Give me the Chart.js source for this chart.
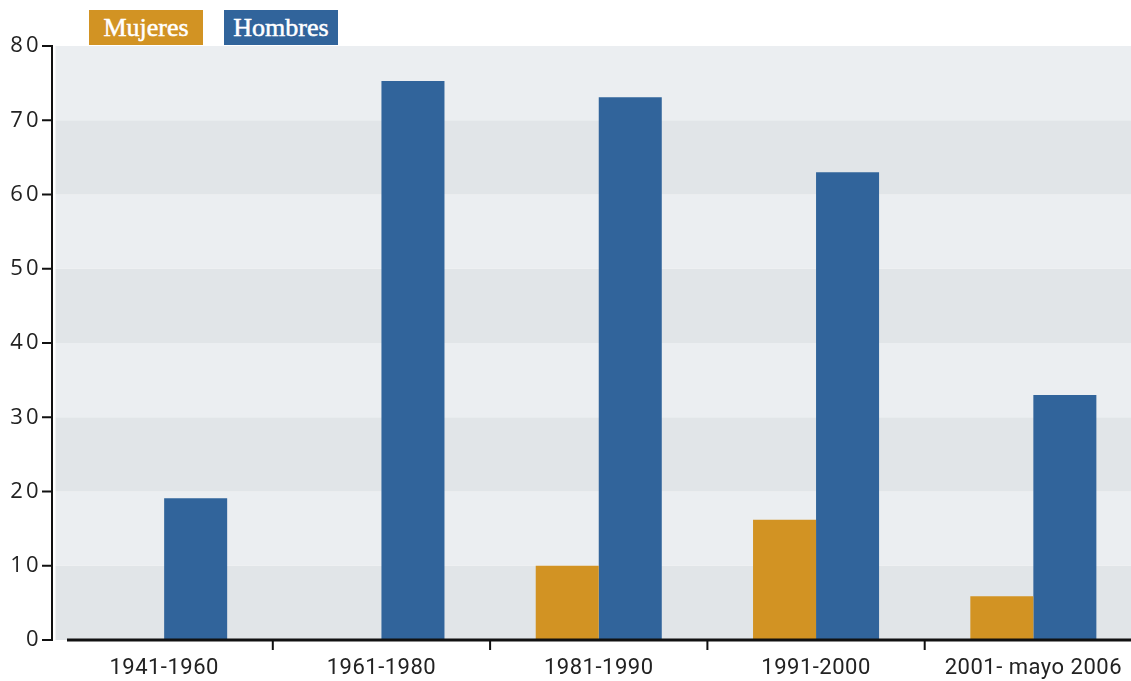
<!DOCTYPE html>
<html>
<head>
<meta charset="utf-8">
<script src="https://cdn.jsdelivr.net/npm/chart.js@4/dist/chart.umd.min.js"></script>
<style>
    html, body { margin: 0; padding: 0; background: #ffffff; overflow: hidden; }
    #wrap { position: relative; width: 1142px; height: 681px; }
    .key {
        position: absolute; top: 10px; width: 114px; height: 35px;
        color: #ffffff; font-family: "Liberation Serif", serif;
        -webkit-text-stroke: 0.5px #ffffff;
        font-size: 26px; line-height: 36px; text-align: center;
    }
</style>
</head>
<body>
<div id="wrap">
    <canvas id="barChart" width="1142" height="681"></canvas>
    <div class="key" style="left:89px;background:#d29323;">Mujeres</div>
    <div class="key" style="left:224px;background:#31649b;">Hombres</div>
</div>
<script>
const periods = ["1941-1960", "1961-1980", "1981-1990", "1991-2000", "2001- mayo 2006"];
const mujeres = [0, 0, 10, 16.2, 5.9];
const hombres = [19.1, 75.3, 73.1, 63, 33];
const yTicks = [0, 10, 20, 30, 40, 50, 60, 70, 80];

// alternating bands, axis lines and tick marks
const decorPlugin = {
    id: "decor",
    beforeDatasetsDraw(chart) {
        const ctx = chart.ctx;
        const area = chart.chartArea;
        const y = chart.scales.y;
        ctx.save();
        for (let i = 0; i < yTicks.length - 1; i++) {
            const top = y.getPixelForValue(yTicks[i + 1]);
            const bottom = y.getPixelForValue(yTicks[i]);
            ctx.fillStyle = (i % 2 === 0) ? "#e1e5e8" : "#ebeef1";
            ctx.fillRect(area.left, top, area.right - area.left, bottom - top);
        }
        ctx.restore();
    },
    afterDraw(chart) {
        const ctx = chart.ctx;
        const area = chart.chartArea;
        const x = chart.scales.x;
        const y = chart.scales.y;
        const zero = y.getPixelForValue(0);
        ctx.save();
        ctx.strokeStyle = "#111111";
        ctx.lineWidth = 2;
        ctx.beginPath();
        ctx.moveTo(52, y.getPixelForValue(80) - 1);
        ctx.lineTo(52, zero + 1);
        yTicks.forEach(v => {
            const py = y.getPixelForValue(v);
            ctx.moveTo(42, py);
            ctx.lineTo(53, py);
        });
        for (let i = 1; i < periods.length; i++) {
            const px = (x.getPixelForValue(i - 1) + x.getPixelForValue(i)) / 2;
            ctx.moveTo(px, zero);
            ctx.lineTo(px, zero + 10);
        }
        ctx.stroke();
        ctx.lineWidth = 3;
        ctx.beginPath();
        ctx.moveTo(67, zero);
        ctx.lineTo(area.right, zero);
        ctx.stroke();
        ctx.restore();
    }
};

const ctx = document.getElementById("barChart").getContext("2d");

const chart = new Chart(ctx, {
    type: "bar",
    data: {
        labels: periods,
        datasets: [
            {
                label: "Mujeres",
                data: mujeres,
                backgroundColor: "#d29323",
                categoryPercentage: 0.58,
                barPercentage: 1.0
            },
            {
                label: "Hombres",
                data: hombres,
                backgroundColor: "#31649b",
                categoryPercentage: 0.58,
                barPercentage: 1.0
            }
        ]
    },
    options: {
        responsive: false,
        animation: false,
        layout: {
            padding: { top: 46, left: 0, right: 0, bottom: 0 }
        },
        plugins: {
            legend: { display: false },
            tooltip: { enabled: false }
        },
        scales: {
            x: {
                grid: { display: false, drawTicks: false },
                border: { display: false },
                ticks: {
                    color: "#222222",
                    font: { family: "Roboto", size: 22 },
                    padding: 15,
                    maxRotation: 0,
                    autoSkip: false
                },
                afterFit(scale) { scale.height = 41; }
            },
            y: {
                min: 0,
                max: 80,
                grid: { display: false, drawTicks: false },
                border: { display: false },
                ticks: {
                    stepSize: 10,
                    color: "#222222",
                    font: { family: "Open Sans", size: 22 },
                    padding: 14
                },
                afterFit(scale) { scale.width = 55.5; }
            }
        }
    },
    plugins: [decorPlugin]
});

// spaced-out digits on the y axis, slight spacing on the x axis
function spaceLabels(scale, spacing) {
    const orig = scale.drawLabels.bind(scale);
    scale.drawLabels = function (area) {
        ctx.letterSpacing = spacing;
        orig(area);
        ctx.letterSpacing = "0px";
    };
}
spaceLabels(chart.scales.y, "3px");
spaceLabels(chart.scales.x, "0.5px");
chart.draw();
</script>
</body>
</html>
